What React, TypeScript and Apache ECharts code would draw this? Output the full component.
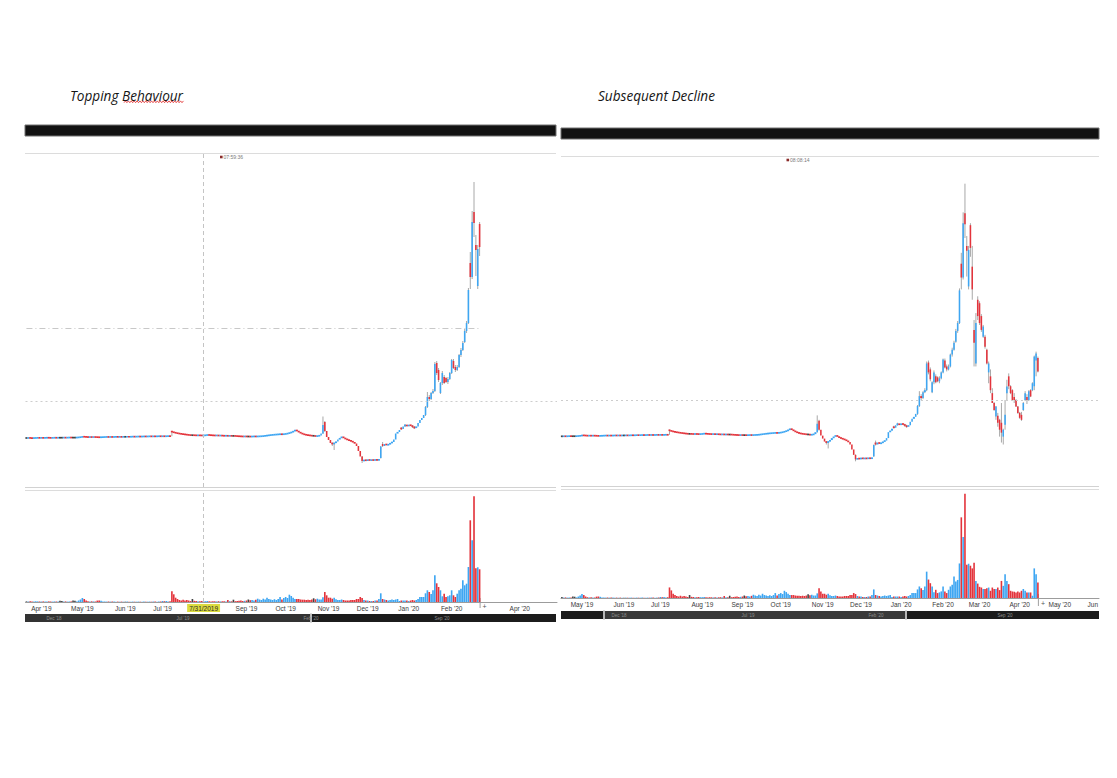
import { useEffect, useRef } from 'react';
import * as echarts from 'echarts';

type Day = number | [number, number, number, number];

// Price per trading day (same stock, same scale).
// A plain number is the close (open = previous close); a tuple is [open, close, low, high].
const pMar19: Day[] = [4.9, 4.91, 4.9, 4.89, 4.9, 4.91, 4.92, 4.91];
const pApr19: Day[] = [4.92, 4.91, 4.92, 4.93, 4.92, 4.91, 4.92, 4.93, 4.92, 4.93, 4.93, 4.93, 4.94, 4.93, 4.94, 4.95, 4.94, 4.94, 4.94, 4.95, 4.97, 4.99];
const pMay19: Day[] = [5.03, 5.02, 5.0, 4.99, 5.0, 4.99, 5.0, 4.99, 4.98, 4.97, 4.98, 4.99, 5.0, 5.01, 5.0, 5.01, 5.0, 5.01, 5.02, 5.01, 5.02, 5.01, 5.02];
const pJun19: Day[] = [5.02, 5.03, 5.02, 5.03, 5.04, 5.03, 5.04, 5.05, 5.04, 5.05, 5.06, 5.05, 5.06, 5.07, 5.06, 5.07, 5.06, 5.07, 5.08, 5.07];
const pJul19: Day[] = [5.08, 5.07, 5.08, 5.09, 5.08, [5.58, 5.5, 5.08, 5.6], 5.45, 5.4, 5.36, 5.33, 5.3, 5.27, 5.25, 5.22, 5.2, 5.18, 5.18, 5.17, 5.16, 5.17, 5.16, 5.15, 5.16];
const pAug19: Day[] = [5.18, 5.21, 5.19, 5.17, 5.16, 5.15, 5.16, 5.14, 5.15, 5.13, 5.12, 5.13, 5.11, 5.12, 5.11, 5.11, 5.1, 5.08, 5.07, 5.06, 5.05, 5.06];
const pSep19: Day[] = [5.05, 5.05, 5.04, 5.05, 5.06, 5.05, 5.06, 5.07, 5.08, 5.1, 5.13, 5.15, 5.18, 5.2, 5.22, 5.24, 5.25, 5.27, 5.28, 5.27, 5.29];
const pOct19: Day[] = [5.32, 5.36, 5.42, 5.48, 5.58, 5.7, 5.6, 5.48, 5.38, 5.3, 5.24, 5.2, 5.17, 5.15, 5.12, 5.12, 5.08, 5.1, 5.15, 5.35, [5.35, 6.2, 5.3, 7.05], [6.5, 5.6, 5.5, 6.6], 5.0];
const pNov19: Day[] = [4.7, 4.4, [4.4, 4.3, 4.1, 4.45], [4.3, 4.4, 3.7, 4.45], 4.55, 4.75, 4.9, 5.03, 4.9, 4.8, 4.72, 4.65, 4.58, 4.48, 4.35, 4.1, 3.6, 3.05, [3.05, 2.6, 2.4, 3.1], 2.7, 2.65];
const pDec19: Day[] = [2.72, 2.68, 2.7, 2.69, 2.72, 2.7, 2.73, [2.9, 4.05, 2.85, 4.1], [4.3, 4.1, 4.0, 4.5], 4.3, 4.2, 4.25, 4.4, 4.5, 4.75, 5.35, 5.5, 5.7, [5.9, 5.8, 5.7, 6.0], 6.05, [6.1, 6.2, 6.0, 6.3], 6.1];
const pJan20: Day[] = [
  6.2, 6.15, [6.15, 6.0, 5.9, 6.2], [6.0, 5.9, 5.8, 6.1], 6.05, 6.4, 6.7, 6.9, 7.2,
  [7.2, 8.0, 7.1, 8.1], [8.0, 9.0, 7.9, 9.5], [9.0, 8.8, 8.6, 9.2], [8.8, 9.4, 8.7, 9.5],
  [9.4, 9.6, 9.3, 9.8], [9.6, 12.3, 9.5, 12.5], [12.4, 11.4, 11.2, 12.6], [11.7, 10.7, 10.5, 11.9], [9.4, 10.4, 9.3, 10.5],
  [10.4, 11.4, 10.2, 11.6], [11.0, 10.4, 10.3, 11.2], [10.9, 10.5, 10.4, 11.0], [10.5, 10.8, 10.3, 11.0], [10.8, 11.4, 10.7, 11.5],
];
const pFeb20: Day[] = [
  [11.4, 12.7, 11.3, 12.8], [12.6, 11.9, 11.8, 12.8], [12.0, 11.7, 11.5, 12.2], [11.7, 12.0, 11.6, 12.2], [12.0, 13.2, 11.9, 13.3],
  [13.2, 13.7, 13.0, 13.9], [13.7, 14.4, 13.6, 14.6], [14.5, 15.6, 14.4, 15.8], [15.6, 16.4, 15.4, 16.6], [16.4, 19.7, 16.3, 19.9],
  [22.4, 21.0, 19.8, 23.5], [21.0, 26.5, 20.8, 27.6], [27.5, 26.4, 25.0, 30.5], [24.2, 23.7, 21.1, 25.2], [20.1, 23.8, 19.8, 24.2],
  [26.3, 24.0, 23.1, 26.5], [22.1, 19.8, 18.75, 24.2], [15.7, 14.4, 12.0, 16.7], [12.3, 16.4, 12.0, 17.4], [18.75, 17.1, 16.7, 19.1],
];
const pMar20: Day[] = [
  [18.4, 16.4, 16.2, 18.6], [17.1, 15.7, 15.5, 17.3], [15.0, 16.05, 14.9, 16.2], [15.0, 14.0, 13.8, 15.2], [13.7, 12.3, 12.2, 13.8],
  [11.4, 12.3, 10.3, 12.5], [11.0, 9.6, 9.3, 11.7], [9.3, 8.3, 8.3, 9.8], [8.3, 7.6, 7.5, 8.4], [6.94, 7.95, 6.6, 8.0],
  [7.0, 6.3, 5.9, 7.3], [6.6, 5.6, 4.9, 6.7], [6.3, 5.3, 4.3, 8.3], [4.9, 5.6, 4.1, 5.7], [6.1, 7.1, 5.6, 8.6],
  [9.3, 9.97, 8.6, 10.65], [11.0, 10.0, 9.7, 11.3], [10.0, 9.3, 9.2, 10.1], [9.6, 8.6, 8.5, 9.7], [8.9, 8.6, 8.3, 9.3],
  [8.6, 7.95, 7.9, 8.7], [7.95, 7.3, 7.2, 8.0],
];
const pApr20: Day[] = [
  [7.3, 6.8, 6.7, 7.4], [7.1, 6.6, 6.5, 7.4], [7.6, 8.3, 7.5, 8.4], [8.6, 9.3, 8.5, 9.5], [8.9, 8.5, 8.2, 9.2],
  [8.6, 9.5, 8.5, 9.6], [9.6, 8.96, 8.9, 9.7], [9.6, 10.3, 9.5, 10.4], [10.0, 13.0, 9.6, 13.1], [12.6, 13.3, 11.0, 13.5],
  [12.85, 11.5, 11.4, 13.0],
];

// Volume per trading day, same order
const vMar19 = [0.6, 0.5, 0.8, 0.6, 0.5, 0.7, 0.6, 0.5];
const vApr19 = [0.5, 0.6, 0.4, 0.5, 0.6, 0.5, 0.4, 0.6, 0.5, 0.5, 1.2, 1.0, 0.5, 0.6, 0.4, 0.5, 0.6, 1.5, 1.3, 0.6, 1.5, 2.5];
const vMay19 = [4.0, 3.0, 1.5, 0.8, 0.6, 0.7, 0.6, 0.5, 1.4, 1.5, 1.2, 0.6, 0.5, 0.4, 0.5, 0.4, 0.5, 0.4, 0.3, 0.4, 0.3, 0.4, 0.3];
const vJun19 = [0.3, 0.4, 0.3, 0.3, 0.4, 0.3, 0.3, 0.4, 0.3, 0.3, 0.4, 0.3, 0.3, 0.4, 0.3, 0.5, 0.4, 0.3, 0.4, 0.5];
const vJul19 = [1.0, 0.8, 1.0, 0.6, 0.8, 10.7, 7.7, 4.3, 3.0, 2.0, 1.5, 2.3, 1.5, 2.0, 1.5, 1.0, 3.0, 1.2, 1.0, 0.8, 0.8, 1.0, 0.8];
const vAug19 = [0.8, 1.0, 0.7, 0.6, 0.8, 0.7, 0.6, 0.8, 0.6, 0.7, 0.8, 0.6, 2.0, 0.8, 0.7, 2.3, 0.8, 1.0, 1.2, 1.5, 1.0, 1.2];
const vSep19 = [1.5, 2.5, 1.8, 2.0, 1.5, 2.2, 3.3, 2.5, 2.0, 3.3, 2.5, 4.3, 3.0, 2.5, 2.0, 2.8, 2.0, 3.0, 5.0, 2.5, 4.0];
const vOct19 = [5.0, 4.0, 7.3, 6.0, 4.3, 3.0, 3.0, 3.0, 2.5, 2.3, 2.3, 2.0, 2.3, 2.0, 2.5, 3.7, 2.7, 3.3, 2.5, 2.5, 4.7, 10.0, 6.7];
const vNov19 = [4.3, 4.3, 3.3, 4.3, 2.7, 2.0, 2.0, 2.5, 2.0, 1.5, 1.5, 1.5, 2.0, 2.0, 2.0, 3.0, 3.0, 5.0, 4.0, 2.0, 1.5];
const vDec19 = [1.5, 1.0, 1.0, 1.0, 1.5, 1.5, 3.0, 8.7, 3.0, 2.5, 2.0, 1.5, 2.0, 2.5, 2.0, 2.5, 3.0, 1.0, 1.5, 1.5, 1.5, 1.5];
const vJan20 = [1.0, 1.5, 2.0, 1.5, 2.0, 3.0, 5.0, 5.0, 5.0, 8.7, 11.7, 10.0, 8.0, 11.7, 26.7, 18.7, 15.0, 11.7, 5.7, 8.3, 5.0, 5.7, 6.7];
const vFeb20 = [11.7, 6.7, 5.0, 8.3, 11.7, 13.3, 21.7, 16.7, 18.3, 35.0, 81.7, 61.7, 105.7, 33.7, 34.7, 32.7, 30.0, 35.6, 17.3, 14.6];
const vMar20 = [11.3, 10.6, 9.0, 9.0, 10.0, 10.6, 7.3, 10.6, 9.0, 9.0, 10.6, 8.0, 17.3, 12.3, 24.0, 17.3, 14.0, 7.3, 6.6, 6.3, 5.6, 6.6];
const vApr20 = [5.6, 7.3, 9.0, 7.3, 5.6, 5.6, 5.6, 2.3, 30.0, 24.0, 15.6];

const priceMonths = [pMar19, pApr19, pMay19, pJun19, pJul19, pAug19, pSep19, pOct19, pNov19, pDec19, pJan20, pFeb20, pMar20, pApr20];
const volumeMonths = [vMar19, vApr19, vMay19, vJun19, vJul19, vAug19, vSep19, vOct19, vNov19, vDec19, vJan20, vFeb20, vMar20, vApr20];

const FIRST_DAY = '2019-03-20';
const LAST_AXIS_DAY = '2020-06-01';
const LEFT_AXIS_END = '2020-04-21';
const LEFT_LAST_DAY = '2020-02-24';
const RIGHT_AXIS_START = '2019-04-16';
const CROSSHAIR_DAY = '2019-07-31';
const CROSSHAIR_LABEL = '7/31/2019';
const CROSSHAIR_PRICE = 15.9;
const ALERT_PRICE = 8.6;
const LEFT_HIDDEN_MONTHS = ['2019-08', '2020-03'];
const NAV_LABELS = ["Dec '18", "Jul '19", "Feb '20", "Sep '20"];
const MONTHS = ['Jan', 'Feb', 'Mar', 'Apr', 'May', 'Jun', 'Jul', 'Aug', 'Sep', 'Oct', 'Nov', 'Dec'];

const BLUE = '#3ea6f2';
const RED = '#e3343c';
const WICK = '#a8a8a8';
const DOJI = '#444444';
const AXIS_FONT = '"Liberation Sans", Arial, sans-serif';

function pad(n: number) {
  return n < 10 ? '0' + n : '' + n;
}

function tradingDays(from: string, to: string): string[] {
  const [fy, fm, fd] = from.split('-').map(Number);
  const [ty, tm, td] = to.split('-').map(Number);
  const d = new Date(fy, fm - 1, fd);
  const end = new Date(ty, tm - 1, td);
  const out: string[] = [];
  while (d <= end) {
    if (d.getDay() !== 0 && d.getDay() !== 6) {
      out.push(`${d.getFullYear()}-${pad(d.getMonth() + 1)}-${pad(d.getDate())}`);
    }
    d.setDate(d.getDate() + 1);
  }
  return out;
}

const allDays = tradingDays(FIRST_DAY, LAST_AXIS_DAY);

const candles: number[][] = [];
{
  let prev: number | null = null;
  priceMonths.flat().forEach((d) => {
    if (typeof d === 'number') {
      const o = prev ?? d;
      candles.push([o, d, Math.min(o, d), Math.max(o, d)]);
      prev = d;
    } else {
      candles.push(d);
      prev = d[1];
    }
  });
}
const volumes = volumeMonths.flat();

const monthStarts = new Set(allDays.filter((d, i) => i > 0 && d.slice(0, 7) !== allDays[i - 1].slice(0, 7)));

function candleColor(c: number[]) {
  return c[1] > c[0] ? BLUE : c[1] < c[0] ? RED : DOJI;
}

function monthLabel(value: string) {
  const [y, m] = value.split('-');
  if (value.slice(0, 7) === '2020-06') return MONTHS[+m - 1];
  return `${MONTHS[+m - 1]} '${y.slice(2)}`;
}

function drawCandle(_params: any, api: any) {
  const i = api.value(0);
  const o = api.value(1);
  const c = api.value(2);
  const x = api.coord([i, o])[0];
  const yO = api.coord([i, o])[1];
  const yC = api.coord([i, c])[1];
  const yL = api.coord([i, api.value(3)])[1];
  const yH = api.coord([i, api.value(4)])[1];
  const band = api.size([1, 0])[0];
  const small = Math.abs(yO - yC) < 2;
  // quiet days sit edge to edge so they read as a line, as in the screenshot
  const w = small ? band + 0.2 : Math.max(1, band * 0.85);
  let top = Math.min(yO, yC);
  let bottom = Math.max(yO, yC);
  if (bottom - top < 1.7) {
    const m = (top + bottom) / 2;
    top = m - 0.85;
    bottom = m + 0.85;
  }
  const fill = c > o ? BLUE : c < o ? RED : DOJI;
  const children: any[] = [];
  if (yL - yH > bottom - top + 0.4) {
    children.push({ type: 'line', shape: { x1: x, y1: yH, x2: x, y2: yL }, style: { stroke: WICK, lineWidth: 1 } });
  }
  children.push({ type: 'rect', shape: { x: x - w / 2, y: top, width: w, height: bottom - top }, style: { fill } });
  return { type: 'group', children };
}

function txt(x: number, y: number, text: string, size: number, fill: string, extra: any = {}) {
  return {
    type: 'text',
    x,
    y,
    silent: true,
    style: {
      text,
      fontSize: size,
      fontFamily: AXIS_FONT,
      fill,
      align: 'left',
      verticalAlign: 'middle',
      textAlign: 'left',
      textVerticalAlign: 'middle',
      ...extra,
    },
  };
}

function hline(x1: number, x2: number, y: number, stroke: string) {
  return { type: 'line', silent: true, shape: { x1, y1: y, x2, y2: y }, style: { stroke, lineWidth: 1 } };
}

function navigator(y: number, segments: [number, number, string][], handles: number[], labelXs: number[]) {
  const els: any[] = [];
  segments.forEach(([a, b, color]) => {
    els.push({ type: 'rect', silent: true, shape: { x: a, y, width: b - a, height: 8 }, style: { fill: color } });
  });
  handles.forEach((hx) => {
    els.push({ type: 'rect', silent: true, shape: { x: hx - 1, y: y - 0.5, width: 2, height: 9 }, style: { fill: '#b8b8b8' } });
  });
  labelXs.forEach((lx, k) => {
    els.push(txt(lx, y + 4, NAV_LABELS[k], 4.5, '#8f8f8f', { align: 'center', textAlign: 'center' }));
  });
  return els;
}

function frame(): any[] {
  const squiggle: number[][] = [];
  for (let k = 0; k <= 41; k++) squiggle.push([124 + k * 1.45, k % 2 ? 100.9 : 102.7]);
  const titleFont = { fontStyle: 'italic', fontFamily: '"Open Sans", sans-serif' };
  return [
    txt(70, 95, 'Topping Behaviour', 13.6, '#151515', titleFont),
    { type: 'polyline', silent: true, shape: { points: squiggle }, style: { stroke: '#e02424', lineWidth: 0.8, fill: null } },
    txt(598, 95, 'Subsequent Decline', 13.6, '#151515', titleFont),

    { type: 'rect', silent: true, shape: { x: 25, y: 125, width: 531, height: 11 }, style: { fill: '#121212', stroke: '#707070', lineWidth: 1 } },
    { type: 'rect', silent: true, shape: { x: 561, y: 128, width: 538, height: 11 }, style: { fill: '#121212', stroke: '#707070', lineWidth: 1 } },

    hline(25, 556, 153.5, '#dcdcdc'),
    hline(25, 556, 487.5, '#d2d2d2'),
    hline(25, 556, 490.5, '#dcdcdc'),
    hline(561, 1099, 156.5, '#dcdcdc'),
    hline(561, 1099, 486.5, '#d2d2d2'),
    hline(561, 1099, 489.5, '#dcdcdc'),

    { type: 'rect', silent: true, shape: { x: 220, y: 155.7, width: 2.6, height: 2.6 }, style: { fill: '#8a2b2b' } },
    txt(223.5, 157, '07:59:36', 5, '#7a7a7a'),
    { type: 'rect', silent: true, shape: { x: 786.5, y: 158.7, width: 2.6, height: 2.6 }, style: { fill: '#8a2b2b' } },
    txt(790, 160, '08:08:14', 5, '#7a7a7a'),

    ...navigator(614, [[25, 311, '#333333'], [311, 556, '#1c1c1c']], [311], [54, 183, 311, 442]),
    ...navigator(611, [[561, 604, '#1c1c1c'], [604, 906, '#3a3a3a'], [906, 1099, '#1c1c1c']], [604, 906], [619, 748, 876, 1005]),
  ];
}

function endMarks(lx: number, rx: number): any[] {
  return [
    { type: 'line', silent: true, shape: { x1: lx + 0.5, y1: 598, x2: lx + 0.5, y2: 608 }, style: { stroke: '#a0a0a0', lineWidth: 1 } },
    txt(lx + 3, 606.5, '+', 7, '#555', {}),
    { type: 'line', silent: true, shape: { x1: rx + 0.5, y1: 594, x2: rx + 0.5, y2: 606 }, style: { stroke: '#a0a0a0', lineWidth: 1 } },
    txt(rx + 3, 603.5, '+', 7, '#555', {}),
  ];
}

export default function App() {
  const ref = useRef<HTMLDivElement>(null);

  useEffect(() => {
    if (!ref.current) return;
    const chart = echarts.init(ref.current, undefined, { renderer: 'svg' });

    const leftDays = allDays.slice(0, allDays.indexOf(LEFT_AXIS_END) + 1);
    const leftCount = allDays.indexOf(LEFT_LAST_DAY) + 1;
    const offset = allDays.indexOf(RIGHT_AXIS_START);
    const rightDays = allDays.slice(offset);
    const rightCount = candles.length - offset;

    const leftCandles = candles.slice(0, leftCount).map((c, i) => [i, ...c]);
    const rightCandles = candles.slice(offset).map((c, i) => [i, ...c]);
    const leftVol = volumes.slice(0, leftCount).map((v, i) => ({ value: v, itemStyle: { color: candleColor(candles[i]) } }));
    const rightVol = volumes.slice(offset).map((v, i) => ({ value: v, itemStyle: { color: candleColor(candles[offset + i]) } }));

    const labelAxis = (data: string[], hidden: string[]) => ({
      type: 'category',
      data,
      boundaryGap: true,
      axisLine: { lineStyle: { color: '#9c9c9c', width: 1 } },
      axisTick: { show: false },
      splitLine: { show: false },
      axisLabel: {
        interval: (_i: number, v: string) => monthStarts.has(v) && !hidden.includes(v.slice(0, 7)),
        formatter: (v: string) => monthLabel(v),
        fontSize: 6.5,
        fontFamily: AXIS_FONT,
        color: '#3a3a3a',
        margin: 3,
        alignMaxLabel: 'right',
      },
    });

    const dotted = { type: [2, 3], color: '#cdcdcd', width: 1 };
    const dashed = { type: [4, 3], color: '#c4c4c4', width: 1 };
    const dashDot = { type: [6, 3, 1, 3], color: '#c8c8c8', width: 1 };

    const option: any = {
      animation: false,
      backgroundColor: '#ffffff',
      textStyle: { fontFamily: AXIS_FONT },
      grid: [
        { left: 25.5, top: 154, width: 531.5, height: 333 },
        { left: 25.5, top: 491, width: 531.5, height: 111 },
        { left: 561, top: 157, width: 538, height: 330 },
        { left: 561, top: 490, width: 538, height: 108 },
      ],
      xAxis: [
        { type: 'category', gridIndex: 0, data: leftDays, show: false },
        { ...labelAxis(leftDays, LEFT_HIDDEN_MONTHS), gridIndex: 1 },
        { type: 'category', gridIndex: 2, data: rightDays, show: false },
        { ...labelAxis(rightDays, []), gridIndex: 3 },
      ],
      yAxis: [
        { type: 'value', gridIndex: 0, min: 0, max: 33.3, show: false },
        { type: 'value', gridIndex: 1, min: 0, max: 111, show: false },
        { type: 'value', gridIndex: 2, min: -0.2, max: 33.2, show: false },
        { type: 'value', gridIndex: 3, min: 0, max: 109.4, show: false },
      ],
      series: [
        {
          type: 'custom',
          xAxisIndex: 0,
          yAxisIndex: 0,
          renderItem: drawCandle,
          encode: { x: 0, y: [1, 2, 3, 4] },
          data: leftCandles,
          silent: true,
          markLine: {
            silent: true,
            symbol: ['none', 'none'],
            label: { show: false },
            data: [
              { xAxis: CROSSHAIR_DAY, lineStyle: dashed },
              { yAxis: ALERT_PRICE, lineStyle: dotted },
              [
                { coord: [leftDays[0], CROSSHAIR_PRICE], lineStyle: dashDot },
                { coord: [leftDays[leftCount - 1], CROSSHAIR_PRICE] },
              ],
            ],
          },
        },
        {
          type: 'bar',
          xAxisIndex: 1,
          yAxisIndex: 1,
          data: leftVol,
          barWidth: '88%',
          silent: true,
          markLine: {
            silent: true,
            symbol: ['none', 'none'],
            lineStyle: dashed,
            label: {
              show: true,
              position: 'start',
              formatter: CROSSHAIR_LABEL,
              fontSize: 6.5,
              fontFamily: AXIS_FONT,
              color: '#2a2a2a',
              backgroundColor: '#dcdc3e',
              padding: [1, 2, 0, 2],
              distance: 2,
            },
            data: [{ xAxis: CROSSHAIR_DAY }],
          },
        },
        {
          type: 'custom',
          xAxisIndex: 2,
          yAxisIndex: 2,
          renderItem: drawCandle,
          encode: { x: 0, y: [1, 2, 3, 4] },
          data: rightCandles,
          silent: true,
          markLine: {
            silent: true,
            symbol: ['none', 'none'],
            label: { show: false },
            data: [{ yAxis: ALERT_PRICE, lineStyle: dotted }],
          },
        },
        {
          type: 'bar',
          xAxisIndex: 3,
          yAxisIndex: 3,
          data: rightVol,
          barWidth: '88%',
          silent: true,
        },
      ],
      graphic: { elements: frame() },
    };

    chart.setOption(option);

    const lx = chart.convertToPixel({ xAxisIndex: 1 }, leftDays[leftCount - 1]) as number;
    const rx = chart.convertToPixel({ xAxisIndex: 3 }, rightDays[rightCount - 1]) as number;
    chart.setOption({ graphic: { elements: [...frame(), ...endMarks(lx, rx)] } });

    return () => {
      chart.dispose();
    };
  }, []);

  return (
    <div
      ref={ref}
      style={{ position: 'absolute', left: 0, top: 0, width: 1117, height: 778, background: '#fff' }}
    />
  );
}
